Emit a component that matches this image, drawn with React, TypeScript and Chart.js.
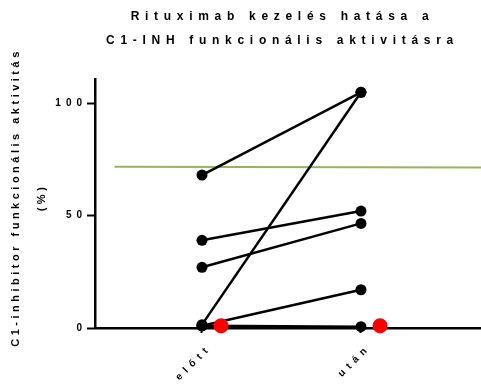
import React, { useEffect, useRef } from 'react';
import { Chart, registerables } from 'chart.js';

Chart.register(...registerables);

// ---- data ----
const categories = ['előtt', 'után'];
const valuesBefore = [68, 1.5, 39, 27, 1, 1];
const valuesAfter = [104.8, 104.8, 52, 46.5, 17, 0.6];
const highlightValues = [1, 1];
const referenceValues = [71.7, 71.3];
const yTickValues = [0, 50, 100];
const titleLines = ['Rituximab kezelés hatása a', 'C1-INH funkcionális aktivitásra'];
const yTitleLines = ['C1-inhibitor funkcionális aktivitás', '(%)'];

// ---- layout / style constants ----
const X_MIN = -0.673;
const X_MAX = 1.755;
const Y_MIN = 0;
const Y_MAX = 110.7;
const HIGHLIGHT_OFFSET = 0.12;
const REF_START = -0.55;
const FONT = "'Liberation Sans', Arial, sans-serif";

const spacingPlugin = {
  id: 'letterSpacingPlugin',
  afterLayout(chart: any) {
    const tb = chart.titleBlock;
    if (tb) {
      tb.left = 84;
      tb.right = 481;
    }
  },
  beforeDraw(chart: any) {
    const ctx = chart.ctx as any;
    ctx.letterSpacing = '5px';
    const tb = chart.titleBlock;
    if (tb && !tb.__patched) {
      const orig = tb.draw;
      tb.draw = function (...args: any[]) {
        const prev = ctx.letterSpacing;
        ctx.letterSpacing = '5.7px';
        orig.apply(this, args);
        ctx.letterSpacing = prev;
      };
      tb.__patched = true;
    }
    const ys = chart.scales.y;
    if (ys && !ys.__patched) {
      const origT = ys.drawTitle;
      ys.drawTitle = function (...args: any[]) {
        const prev = ctx.letterSpacing;
        ctx.save();
        ctx.translate(0, -6);
        ctx.letterSpacing = '3.5px';
        origT.apply(this, args);
        ctx.restore();
        ctx.letterSpacing = prev;
      };
      ys.__patched = true;
    }
  },
};

export default function App() {
  const ref = useRef<HTMLCanvasElement | null>(null);

  useEffect(() => {
    document.body.style.margin = '0';
    if (!ref.current) return;

    const pairDatasets = valuesBefore.map((b, i) => ({
      label: 'P' + (i + 1),
      data: [
        { x: 0, y: b },
        { x: 1, y: valuesAfter[i] },
      ],
      borderColor: '#000',
      backgroundColor: '#000',
      borderWidth: 2.5,
      pointRadius: 5.5,
      pointBorderWidth: 0,
      pointBackgroundColor: '#000',
      showLine: true,
      clip: false as any,
      order: 2,
    }));

    const chart = new Chart(ref.current, {
      type: 'line',
      data: {
        datasets: [
          {
            label: 'highlight',
            data: highlightValues.map((v, i) => ({ x: i + HIGHLIGHT_OFFSET, y: v })),
            showLine: false,
            pointRadius: 7.5,
            pointBorderWidth: 0,
            pointBackgroundColor: '#ff0000',
            borderColor: '#ff0000',
            backgroundColor: '#ff0000',
            clip: false as any,
            order: 1,
          },
          ...pairDatasets,
          {
            label: 'reference',
            data: [
              { x: REF_START, y: referenceValues[0] },
              { x: X_MAX, y: referenceValues[1] },
            ],
            borderColor: '#93b65a',
            borderWidth: 2,
            pointRadius: 0,
            showLine: true,
            clip: false as any,
            order: 3,
          },
        ] as any,
      },
      options: {
        animation: false,
        responsive: false,
        layout: { padding: 0, autoPadding: false },
        plugins: {
          legend: { display: false },
          tooltip: { enabled: false },
          title: {
            display: true,
            text: titleLines,
            fullSize: false,
            color: '#000',
            font: { family: FONT, size: 12, weight: 'bold', lineHeight: '24.5px' as any },
            padding: { top: 4, bottom: 26 },
          },
        },
        scales: {
          x: {
            type: 'linear',
            min: X_MIN,
            max: X_MAX,
            afterBuildTicks: (s: any) => {
              s.ticks = categories.map((_, i) => ({ value: i }));
            },
            afterFit: (s: any) => {
              s.height = 57;
              s.paddingLeft = 0;
              s.paddingRight = 0;
            },
            ticks: {
              autoSkip: false,
              minRotation: 45,
              maxRotation: 45,
              padding: 9,
              labelOffset: 8,
              color: '#000',
              font: { family: FONT, size: 10, weight: 'bold' },
              callback: (v: any) => categories[Math.round(Number(v))] ?? '',
            },
            grid: {
              drawOnChartArea: false,
              drawTicks: true,
              tickLength: 5,
              tickWidth: 2,
              color: '#000',
              tickColor: '#000',
            },
            border: { display: true, color: '#000', width: 2.5 },
          },
          y: {
            type: 'linear',
            min: Y_MIN,
            max: Y_MAX,
            afterBuildTicks: (s: any) => {
              s.ticks = yTickValues.map((v) => ({ value: v }));
            },
            afterFit: (s: any) => {
              s.width = 95;
            },
            ticks: {
              padding: 0,
              color: '#000',
              font: { family: FONT, size: 10, weight: 'bold' },
            },
            grid: {
              drawOnChartArea: false,
              drawTicks: true,
              tickLength: 8,
              tickWidth: 2,
              color: '#000',
              tickColor: '#000',
            },
            border: { display: true, color: '#000', width: 2.5 },
            title: {
              display: true,
              text: yTitleLines,
              color: '#000',
              font: { family: FONT, size: 11, weight: 'bold', lineHeight: '26px' as any },
              padding: { top: 3, bottom: 0 },
            },
          },
        },
      },
      plugins: [spacingPlugin],
    } as any);

    return () => chart.destroy();
  }, []);

  return <canvas ref={ref} width={481} height={385} style={{ display: 'block' }} />;
}
